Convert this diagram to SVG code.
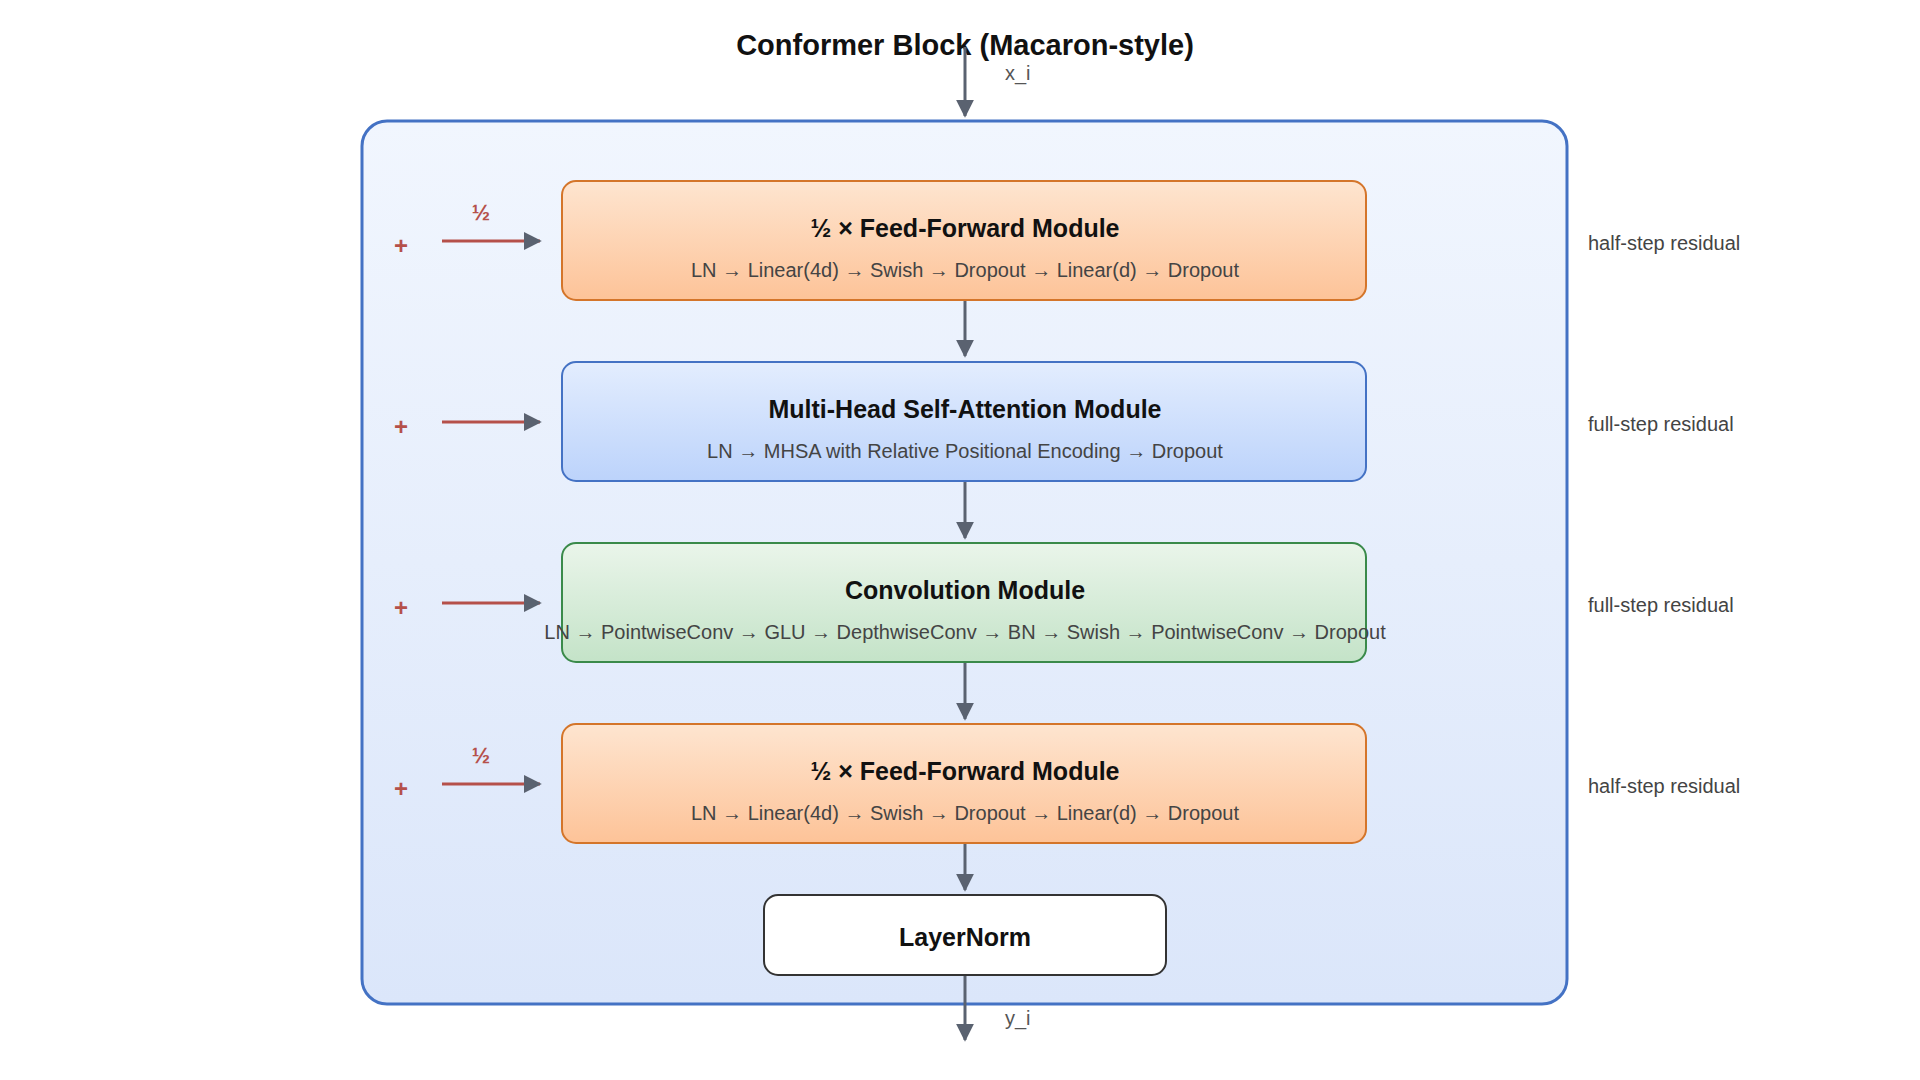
<svg xmlns="http://www.w3.org/2000/svg" width="1920" height="1080" viewBox="0 0 1920 1080">
<style>
text{font-family:"Liberation Sans",Arial,sans-serif}
.t{font-size:25px;font-weight:bold;fill:#111;text-anchor:middle}
.s{font-size:20px;fill:#444;text-anchor:middle}
.r{font-size:20px;fill:#444}
.lab{font-size:20px;fill:#555}
.ln{stroke:#5a6270;stroke-width:3;fill:none}
.red{stroke:#b5504a;stroke-width:3;fill:none}
.plus{font-size:24px;font-weight:bold;fill:#b5504a;text-anchor:middle}
</style>
<defs>
<marker id="a" viewBox="0 0 10 10" refX="9" refY="5" markerWidth="6" markerHeight="6" orient="auto" markerUnits="strokeWidth"><path d="M0,0L10,5L0,10z" fill="#5a6270"/></marker>
<linearGradient id="bg" x1="0" y1="0" x2="0" y2="1"><stop offset="0" stop-color="#f1f6fe"/><stop offset="1" stop-color="#dbe6fa"/></linearGradient>
<linearGradient id="or" x1="0" y1="0" x2="0" y2="1"><stop offset="0" stop-color="#fee5d0"/><stop offset="1" stop-color="#fdc398"/></linearGradient>
<linearGradient id="bl" x1="0" y1="0" x2="0" y2="1"><stop offset="0" stop-color="#e3edfe"/><stop offset="1" stop-color="#bcd3fb"/></linearGradient>
<linearGradient id="gr" x1="0" y1="0" x2="0" y2="1"><stop offset="0" stop-color="#eaf5ea"/><stop offset="1" stop-color="#c4e3c8"/></linearGradient>
</defs>
<rect width="1920" height="1080" fill="#fff"/>
<text x="965" y="55" class="t" style="font-size:29px">Conformer Block (Macaron-style)</text>
<g id="container"><rect x="362" y="121" width="1205" height="883" rx="25" fill="url(#bg)" stroke="#4472c4" stroke-width="3"/></g>
<g id="connectors">
<line x1="965" y1="47" x2="965" y2="116" class="ln" marker-end="url(#a)"/>
<line x1="965" y1="300" x2="965" y2="356" class="ln" marker-end="url(#a)"/>
<line x1="965" y1="481" x2="965" y2="538" class="ln" marker-end="url(#a)"/>
<line x1="965" y1="662" x2="965" y2="719" class="ln" marker-end="url(#a)"/>
<line x1="965" y1="843" x2="965" y2="890" class="ln" marker-end="url(#a)"/>
<line x1="965" y1="975" x2="965" y2="1040" class="ln" marker-end="url(#a)"/>
<line x1="442" y1="241" x2="540" y2="241" class="red" marker-end="url(#a)"/>
<line x1="442" y1="422" x2="540" y2="422" class="red" marker-end="url(#a)"/>
<line x1="442" y1="603" x2="540" y2="603" class="red" marker-end="url(#a)"/>
<line x1="442" y1="784" x2="540" y2="784" class="red" marker-end="url(#a)"/>
<text x="1005" y="80" class="lab">x_i</text>
<text x="1005" y="1025" class="lab">y_i</text>
<text x="481" y="220" class="plus" style="font-size:22px">½</text>
<text x="481" y="763" class="plus" style="font-size:22px">½</text>
<text x="401" y="254" class="plus">+</text>
<text x="401" y="435" class="plus">+</text>
<text x="401" y="616" class="plus">+</text>
<text x="401" y="797" class="plus">+</text>
</g>
<g id="ff1"><rect x="562" y="181" width="804" height="119" rx="14" fill="url(#or)" stroke="#d4752a" stroke-width="2"/>
<text x="965" y="237" class="t">½ × Feed-Forward Module</text>
<text x="965" y="277" class="s">LN → Linear(4d) → Swish → Dropout → Linear(d) → Dropout</text></g>
<g id="mhsa"><rect x="562" y="362" width="804" height="119" rx="14" fill="url(#bl)" stroke="#4472c4" stroke-width="2"/>
<text x="965" y="418" class="t">Multi-Head Self-Attention Module</text>
<text x="965" y="458" class="s">LN → MHSA with Relative Positional Encoding → Dropout</text></g>
<g id="conv"><rect x="562" y="543" width="804" height="119" rx="14" fill="url(#gr)" stroke="#3a8a4a" stroke-width="2"/>
<text x="965" y="599" class="t">Convolution Module</text>
<text x="965" y="639" class="s">LN → PointwiseConv → GLU → DepthwiseConv → BN → Swish → PointwiseConv → Dropout</text></g>
<g id="ff2"><rect x="562" y="724" width="804" height="119" rx="14" fill="url(#or)" stroke="#d4752a" stroke-width="2"/>
<text x="965" y="780" class="t">½ × Feed-Forward Module</text>
<text x="965" y="820" class="s">LN → Linear(4d) → Swish → Dropout → Linear(d) → Dropout</text></g>
<g id="layernorm"><rect x="764" y="895" width="402" height="80" rx="14" fill="#fff" stroke="#333" stroke-width="2"/>
<text x="965" y="946" class="t">LayerNorm</text></g>
<g id="labels">
<text x="1588" y="250" class="r">half-step residual</text>
<text x="1588" y="431" class="r">full-step residual</text>
<text x="1588" y="612" class="r">full-step residual</text>
<text x="1588" y="793" class="r">half-step residual</text>
</g>
</svg>
